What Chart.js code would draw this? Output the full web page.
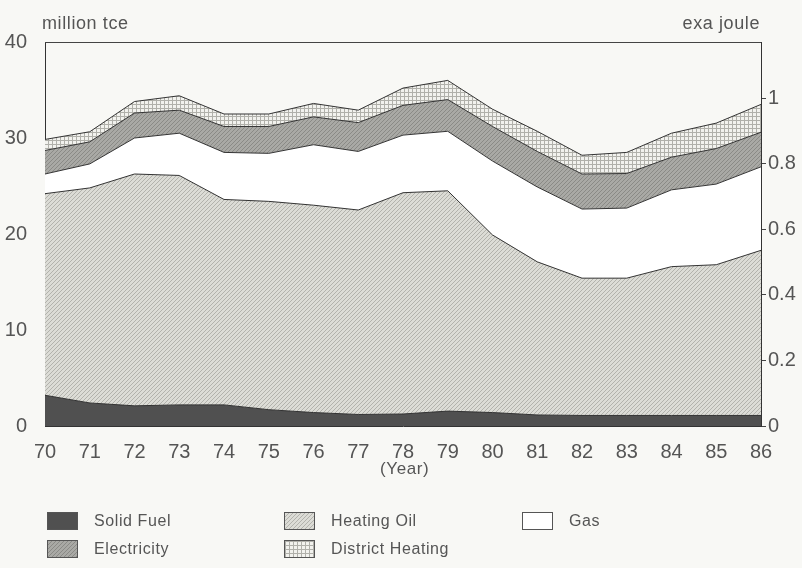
<!DOCTYPE html>
<html>
<head>
<meta charset="utf-8">
<script src="https://cdn.jsdelivr.net/npm/chart.js@4/dist/chart.umd.min.js"></script>
<style>
  body { margin: 0; background: #f8f8f5; }
  #wrap { position: relative; width: 802px; height: 568px; font-family: "Liberation Sans", Arial, sans-serif; color: #555; }
  canvas { position: absolute; left: 0; top: 0; }
  .lbl { position: absolute; font-size: 18px; letter-spacing: 0.6px; white-space: nowrap; }
  .leg { position: absolute; font-size: 16px; letter-spacing: 0.6px; white-space: nowrap; display: flex; align-items: center; }
  .sw { width: 31px; height: 18px; border: 1px solid #555; margin-right: 16px; box-sizing: border-box; }
</style>
</head>
<body>
<div id="wrap">
  <canvas id="chart" width="802" height="568"></canvas>
  <div class="lbl" style="left:42px; top:13px;">million tce</div>
  <div class="lbl" style="right:42px; top:13px;">exa joule</div>
  <div class="lbl" style="left:380px; top:459px; font-size:17px;">(Year)</div>
  <div id="legend"></div>
</div>
<script>
const years = ['70', '71', '72', '73', '74', '75', '76', '77', '78', '79', '80', '81', '82', '83', '84', '85', '86'];

// million tce per carrier, stacked bottom to top
const solidFuel = [3.2, 2.4, 2.1, 2.2, 2.2, 1.7, 1.4, 1.2, 1.25, 1.55, 1.4, 1.15, 1.1, 1.1, 1.1, 1.1, 1.1];
const heatingOil = [21.0, 22.4, 24.15, 23.9, 21.4, 21.7, 21.6, 21.3, 23.05, 22.95, 18.5, 15.95, 14.3, 14.3, 15.5, 15.7, 17.2];
const gas = [2.05, 2.5, 3.75, 4.4, 4.9, 5.0, 6.3, 6.1, 6.0, 6.2, 7.7, 7.8, 7.2, 7.3, 8.0, 8.4, 8.7];
const electricity = [2.45, 2.3, 2.6, 2.4, 2.7, 2.8, 2.9, 3.0, 3.1, 3.3, 3.6, 3.7, 3.65, 3.6, 3.4, 3.7, 3.6];
const districtHeating = [1.15, 1.05, 1.2, 1.5, 1.3, 1.3, 1.4, 1.3, 1.8, 2.0, 1.8, 2.1, 1.95, 2.2, 2.5, 2.65, 2.9];

const leftTicks = [0, 10, 20, 30, 40];
const rightTicks = [0, 0.2, 0.4, 0.6, 0.8, 1];
const tcePerExajoule = 34.12;

// small tiles used as fill patterns
function makeTile(bg, ink, kind) {
  const c = document.createElement('canvas');
  c.width = 4; c.height = 4;
  const ctx = c.getContext('2d');
  ctx.fillStyle = bg;
  ctx.fillRect(0, 0, 4, 4);
  ctx.fillStyle = ink;
  if (kind === 'diag') {
    for (let i = 0; i < 4; i++) ctx.fillRect(i, 3 - i, 1, 1);
  } else if (kind === 'grid') {
    ctx.fillRect(0, 0, 4, 1);
    ctx.fillRect(0, 0, 1, 4);
  }
  return c;
}

const tiles = {
  solid: makeTile('#505050', '#505050', 'flat'),
  oil: makeTile('#dcdcd6', '#b2b2ac', 'diag'),
  gas: makeTile('#ffffff', '#ffffff', 'flat'),
  elec: makeTile('#a9a9a5', '#8a8a86', 'diag'),
  district: makeTile('#f2f2ee', '#b0b0aa', 'grid')
};

const ctx = document.getElementById('chart').getContext('2d');
const pat = key => ctx.createPattern(tiles[key], 'repeat');

const series = [
  { label: 'Solid Fuel', data: solidFuel, tile: 'solid' },
  { label: 'Heating Oil', data: heatingOil, tile: 'oil' },
  { label: 'Gas', data: gas, tile: 'gas' },
  { label: 'Electricity', data: electricity, tile: 'elec' },
  { label: 'District Heating', data: districtHeating, tile: 'district' }
];

const frame = {
  id: 'frame',
  afterDraw(chart) {
    const a = chart.chartArea;
    const c = chart.ctx;
    c.save();
    c.strokeStyle = '#444';
    c.lineWidth = 1;
    c.beginPath();
    c.moveTo(a.left, a.top + 0.5);
    c.lineTo(a.right, a.top + 0.5);
    c.stroke();
    c.restore();
  }
};

const tickFont = { family: '"Liberation Sans", Arial, sans-serif', size: 20 };

new Chart(ctx, {
  type: 'line',
  data: {
    labels: years,
    datasets: series.map((s, i) => ({
      label: s.label,
      data: s.data,
      yAxisID: 'y',
      fill: i === 0 ? 'origin' : '-1',
      backgroundColor: pat(s.tile),
      borderColor: '#333',
      borderWidth: 1,
      pointRadius: 0,
      tension: 0
    }))
  },
  options: {
    responsive: false,
    animation: false,
    devicePixelRatio: 1,
    layout: { padding: { top: 42, left: 0, right: 0, bottom: 0 } },
    plugins: { legend: { display: false }, tooltip: { enabled: false } },
    scales: {
      x: {
        type: 'category',
        offset: false,
        grid: { display: false },
        border: { display: true, color: '#333' },
        ticks: { font: tickFont, color: '#555', padding: 6, maxRotation: 0, autoSkip: false },
        afterFit: s => { s.height = 142; }
      },
      y: {
        position: 'left',
        stacked: true,
        min: 0,
        max: 40,
        grid: { display: false },
        border: { display: true, color: '#333' },
        ticks: { font: tickFont, color: '#555', padding: 10 },
        afterBuildTicks: s => { s.ticks = leftTicks.map(v => ({ value: v })); },
        afterFit: s => { s.width = 45; }
      },
      y2: {
        position: 'right',
        min: 0,
        max: 40 / tcePerExajoule,
        grid: { drawOnChartArea: false, color: '#444', tickLength: 5 },
        border: { display: true, color: '#333' },
        ticks: { font: tickFont, color: '#555', padding: 2, callback: v => String(v) },
        afterBuildTicks: s => { s.ticks = rightTicks.map(v => ({ value: v })); },
        afterFit: s => { s.width = 41; }
      }
    }
  },
  plugins: [frame]
});

// legend laid out like the printed key: three columns, two rows
const legendPos = [
  { left: 47, top: 512 },
  { left: 284, top: 512 },
  { left: 522, top: 512 },
  { left: 47, top: 540 },
  { left: 284, top: 540 }
];
const legend = document.getElementById('legend');
series.forEach((s, i) => {
  const item = document.createElement('div');
  item.className = 'leg';
  item.style.left = legendPos[i].left + 'px';
  item.style.top = legendPos[i].top + 'px';
  const sw = document.createElement('span');
  sw.className = 'sw';
  sw.style.backgroundImage = 'url(' + tiles[s.tile].toDataURL() + ')';
  item.appendChild(sw);
  item.appendChild(document.createTextNode(s.label));
  legend.appendChild(item);
});
</script>
</body>
</html>
